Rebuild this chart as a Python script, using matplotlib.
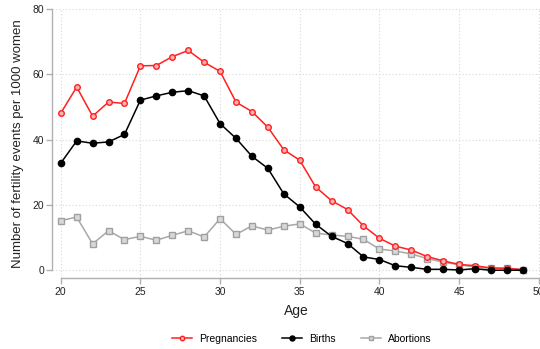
import matplotlib.pyplot as plt
import numpy as np

plt.rcParams['font.family'] = ['Liberation Sans', 'DejaVu Sans']

ages = np.arange(20, 50)

pregnancies = [48.1, 56.1, 47.2, 51.5, 51.1, 62.6, 62.7, 65.4, 67.3, 63.7,
               60.9, 51.5, 48.6, 43.8, 36.9, 33.7, 25.5, 21.3, 18.6, 13.6,
               9.8, 7.4, 6.2, 4.2, 2.9, 1.8, 1.4, 0.7, 0.6, 0.2]
births = [32.8, 39.6, 38.9, 39.3, 41.6, 52.1, 53.4, 54.5, 55.0, 53.4,
          44.9, 40.4, 34.9, 31.2, 23.4, 19.4, 14.1, 10.4, 8.2, 4.1,
          3.3, 1.4, 0.9, 0.3, 0.3, 0.1, 0.5, 0.0, 0.05, 0.0]
abortions = [15.2, 16.3, 8.1, 12.1, 9.4, 10.4, 9.2, 10.7, 12.1, 10.2,
             15.8, 11.0, 13.6, 12.3, 13.5, 14.2, 11.4, 10.8, 10.4, 9.5,
             6.5, 5.9, 5.0, 3.6, 2.5, 1.7, 1.0, 0.6, 0.7, 0.2]

xticks = [20, 25, 30, 35, 40, 45, 50]
yticks = [0, 20, 40, 60, 80]

fig = plt.figure(figsize=(5.4, 3.49), dpi=100)
ax = fig.add_axes([52.3 / 540, 70.7 / 349, (540 - 52.3) / 540, (340 - 70.7) / 349])

ax.plot(ages, pregnancies, color="#ff2020", lw=1.1, marker="o", ms=4,
        mfc="#ffb0b0", mec="#ff2020", mew=1.0, label="Pregnancies", zorder=3)
ax.plot(ages, births, color="black", lw=1.1, marker="o", ms=4.5,
        mfc="black", mec="black", label="Births", zorder=4)
ax.plot(ages, abortions, color="#a8a8a8", lw=1.1, marker="s", ms=4,
        mfc="#d8d8d8", mec="#a0a0a0", mew=1.0, label="Abortions", zorder=2)

ax.set_xlim(19.47, 50.08)
ax.set_ylim(-2.45, 80)
ax.set_xticks(xticks)
ax.set_yticks(yticks)
ax.grid(True, color="#d8d8d8", linestyle=(0, (1, 2)), linewidth=0.8)
ax.set_axisbelow(True)

for s in ["top", "right"]:
    ax.spines[s].set_visible(False)
ax.spines["left"].set_bounds(0, 80)
ax.spines["bottom"].set_bounds(20, 50)
for s in ["left", "bottom"]:
    ax.spines[s].set_color("#b0b0b0")
    ax.spines[s].set_linewidth(1.0)
ax.tick_params(colors="#b0b0b0", labelcolor="#222222", labelsize=7.5,
               length=4, width=1.0, pad=2)

ax.set_xlabel("Age", fontsize=10, color="#222222", labelpad=5)
ax.set_ylabel("Number of fertility events per 1000 women", fontsize=9.5,
              color="#222222", labelpad=6)

fig.legend(loc="center", bbox_to_anchor=(0.559, 10 / 349),
           ncol=3, frameon=False, fontsize=7.5, handlelength=1.9,
           handletextpad=0.7, columnspacing=2.4, markerscale=0.8)

fig.savefig("out.png", dpi=100)
